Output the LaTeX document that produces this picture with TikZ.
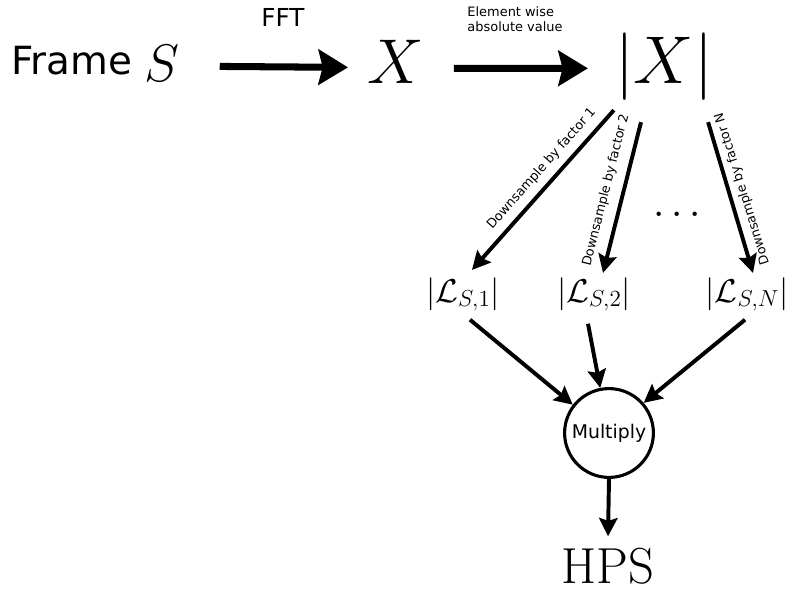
\documentclass[tikz,border=0pt]{standalone}
\usepackage{fix-cm}
\usepackage[no-math]{fontspec}
\newfontfamily\dejavu{DejaVu Sans}
\usetikzlibrary{arrows.meta}
\newcommand{\fsize}[1]{\fontsize{#1}{#1}\selectfont}

\begin{document}
\begin{tikzpicture}[x=0.025cm,y=-0.025cm,
        txt/.style={inner sep=0pt},
        mainarrow/.style={line width=5pt,-{Stealth[length=21pt,width=25pt,inset=3pt]}},
        dsarrow/.style={line width=2.8pt,-{Stealth[length=13pt,width=13pt,inset=2pt]}},
        dslabel/.style={font=\dejavu\fsize{9.1},inner sep=5pt}]
        \useasboundingbox (0,0) rectangle (791,592);

        \node[txt,anchor=base west] (frame) at ( 11, 74) {\dejavu\fsize{27.6}Frame};
        \node[txt,anchor=base]      (S)     at (162, 81) {\fsize{37.6}$S$};
        \node[txt,anchor=base]      (X)     at (396, 83) {\fsize{45}$X$};
        \node[txt,anchor=base]      (absX)  at (664, 83) {\fsize{48}$|X|$};
        \node[txt]                  (fft)   at (283, 17) {\dejavu\fsize{17.6}FFT};
        \node[txt,align=left,font=\dejavu\fontsize{9.2}{11}\selectfont] (absval) at (515, 19) {Element wise\\absolute value};

        \node[txt,anchor=base] (L1) at (463,302) {\fsize{23.5}$|\mathcal{L}_{S,1}|$};
        \node[txt,anchor=base] (L2) at (594,302) {\fsize{23.5}$|\mathcal{L}_{S,2}|$};
        \node[txt,anchor=base] (LN) at (747,302) {\fsize{23.5}$|\mathcal{L}_{S,N}|$};
        \node[txt]             (dots) at (677,215) {\fsize{29}$\cdots$};

        \node[circle,draw=black,line width=2.2pt,minimum size=2.22cm,inner sep=0pt,font=\dejavu\fsize{13.4}] (mult) at (609,433) {Multiply};
        \node[txt,anchor=base] (hps) at (608,583) {\fsize{36}HPS};

        \draw[mainarrow] ([shift={(40,3.5)}]S.east) -- ([shift={(-19.5,6)}]X.west);
        \draw[mainarrow] ([shift={(29.5,7)}]X.east) -- ([shift={(-27,2.2)}]absX.west);

        \draw[dsarrow] ([shift={(-1,10)}]absX.south west) -- node[dslabel,pos=0.43,sloped,above] {Downsample by factor 1} ([shift={(9,-7)}]L1.north);
        \draw[dsarrow] ([shift={(-23,22)}]absX.south) -- node[dslabel,pos=0.48,sloped,above,inner sep=6.5pt] {Downsample by factor 2} ([shift={(9,-4)}]L2.north);
        \draw[dsarrow] ([shift={(-5,22)}]absX.south east) -- node[dslabel,pos=0.47,rotate=107.3,below,inner sep=4pt] {Downsample by factor N} ([shift={(6,-4)}]LN.north);

        \draw[dsarrow] ([shift={(7,8)}]L1.south)  -- (mult.142);
        \draw[dsarrow] ([shift={(-6,12)}]L2.south) -- (mult.101);
        \draw[dsarrow] ([shift={(-2,8)}]LN.south)  -- (mult.41);
        \draw[dsarrow] (mult.south) -- ([shift={(0,-11)}]hps.north);
\end{tikzpicture}
\end{document}
